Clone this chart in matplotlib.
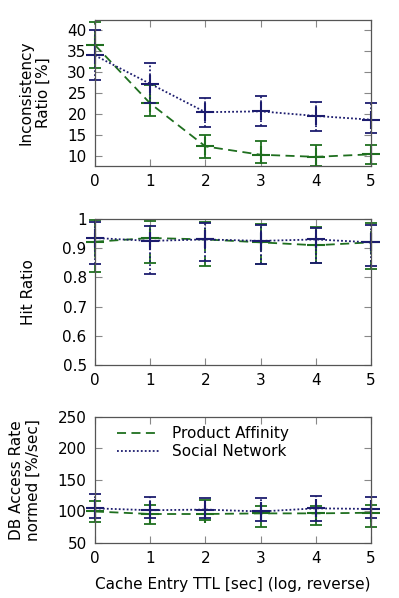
import matplotlib
matplotlib.use('Agg')
from matplotlib import pyplot as plt

ttl = [0, 1, 2, 3, 4, 5]

# inconsistency ratio [%]
inc_pa = [36.5, 22.5, 12.2, 10.2, 9.7, 10.3]
inc_pa_lo = [31.0, 19.5, 9.5, 8.2, 7.5, 8.0]
inc_pa_hi = [42.0, 27.0, 15.0, 13.6, 12.6, 12.5]
inc_sn = [34.0, 27.2, 20.4, 20.6, 19.5, 18.6]
inc_sn_lo = [28.0, 22.5, 16.8, 17.0, 16.0, 15.3]
inc_sn_hi = [40.0, 32.3, 23.8, 24.2, 22.9, 22.6]

# hit ratio
hit_pa = [0.922, 0.935, 0.930, 0.920, 0.910, 0.920]
hit_pa_lo = [0.820, 0.850, 0.840, 0.845, 0.850, 0.830]
hit_pa_hi = [0.995, 0.993, 0.990, 0.982, 0.972, 0.985]
hit_sn = [0.935, 0.925, 0.930, 0.925, 0.930, 0.920]
hit_sn_lo = [0.845, 0.810, 0.855, 0.845, 0.848, 0.840]
hit_sn_hi = [0.990, 0.975, 0.985, 0.980, 0.970, 0.980]

# db access rate normed [%/sec]
db_pa = [100, 96, 96, 97, 97, 98]
db_pa_lo = [83, 80, 87, 75, 79, 75]
db_pa_hi = [117, 110, 119, 109, 109, 111]
db_sn = [105, 102, 103, 100, 105, 104]
db_sn_lo = [90, 90, 90, 85, 85, 90]
db_sn_hi = [128, 123, 122, 121, 125, 123]

GREEN = '#1f6f1f'
BLUE = '#1c1c6e'

plt.rcParams['font.family'] = 'DejaVu Sans'
plt.rcParams['font.size'] = 11

fig = plt.figure(figsize=(3.99, 5.98), dpi=100)
ax1 = fig.add_axes([0.238, 0.7224, 0.692, 0.2442])
ax2 = fig.add_axes([0.238, 0.3896, 0.692, 0.2442])
ax3 = fig.add_axes([0.238, 0.0920, 0.692, 0.2107])


def draw(ax, pa, pa_lo, pa_hi, sn, sn_lo, sn_hi):
    series = [(pa, pa_lo, pa_hi, GREEN, (0, (5, 3)), 'Product Affinity'),
              (sn, sn_lo, sn_hi, BLUE, (0, (1, 1.2)), 'Social Network')]
    for vals, lo, hi, col, ls, name in series:
        err = [[v - l for v, l in zip(vals, lo)], [h - v for v, h in zip(vals, hi)]]
        ax.plot(ttl, vals, color=col, linestyle=ls, linewidth=1.3,
                marker='+', markersize=13, markeredgewidth=1.5, clip_on=False, label=name)
        _, caps, bars = ax.errorbar(ttl, vals, yerr=err, fmt='none', ecolor=col,
                                    elinewidth=1.3, capsize=4, capthick=1.3)
        for b in bars:
            b.set_linestyle(ls)
            b.set_clip_on(False)
        for c in caps:
            c.set_clip_on(False)
    ax.set_xlim(0, 5)
    ax.set_xticks(ttl)
    ax.tick_params(direction='in', top=True, right=True, length=5, color='#888888',
                   labelsize=11, pad=6)
    for s in ax.spines.values():
        s.set_color('#555555')
        s.set_linewidth(0.9)


draw(ax1, inc_pa, inc_pa_lo, inc_pa_hi, inc_sn, inc_sn_lo, inc_sn_hi)
ax1.set_ylim(7.5, 42.5)
ax1.set_yticks([10, 15, 20, 25, 30, 35, 40])
ax1.set_ylabel('Inconsistency\nRatio [%]', fontsize=11, labelpad=12)

draw(ax2, hit_pa, hit_pa_lo, hit_pa_hi, hit_sn, hit_sn_lo, hit_sn_hi)
ax2.set_ylim(0.5, 1.0)
ax2.set_yticks([0.5, 0.6, 0.7, 0.8, 0.9, 1.0])
ax2.set_yticklabels(['0.5', '0.6', '0.7', '0.8', '0.9', '1'])
ax2.set_ylabel('Hit Ratio', fontsize=11, labelpad=19)

draw(ax3, db_pa, db_pa_lo, db_pa_hi, db_sn, db_sn_lo, db_sn_hi)
ax3.set_ylim(50, 250)
ax3.set_yticks([50, 100, 150, 200, 250])
ax3.set_ylabel('DB Access Rate\nnormed [%/sec]', fontsize=11, labelpad=12)
ax3.set_xlabel('Cache Entry TTL [sec] (log, reverse)', fontsize=11, labelpad=8)

handles = [plt.Line2D([], [], color=GREEN, linestyle=(0, (5, 3)), linewidth=1.3),
           plt.Line2D([], [], color=BLUE, linestyle=(0, (1, 1.2)), linewidth=1.3)]
ax3.legend(handles, ['Product Affinity', 'Social Network'], loc='upper left',
           frameon=False, handlelength=2.8, handletextpad=0.8, fontsize=11,
           borderaxespad=0.3, bbox_to_anchor=(0.04, 1.01), labelspacing=0.2)

fig.savefig('out.png', dpi=100)
